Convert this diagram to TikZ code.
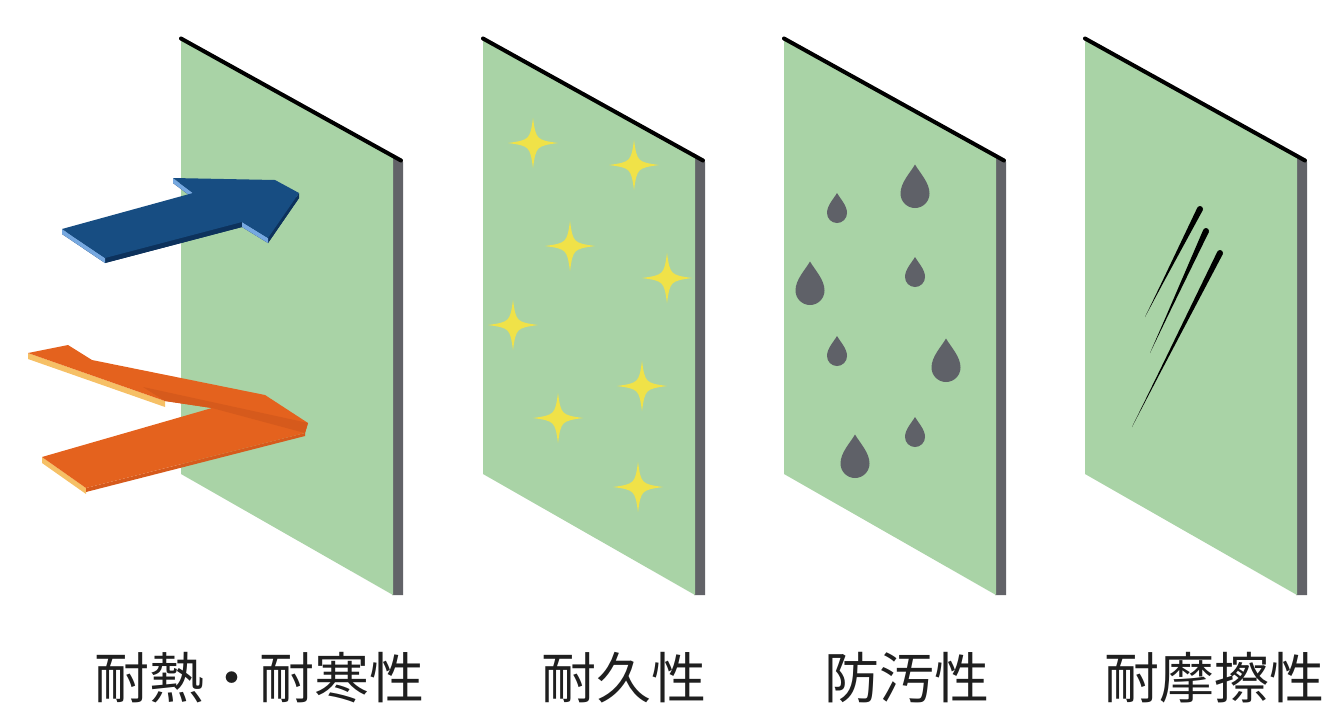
\documentclass[tikz,border=0pt]{standalone}
\usepackage{fontspec}
\newfontfamily\jpfont{Noto Sans CJK JP}
\usetikzlibrary{calc}

\definecolor{panelgreen}{RGB}{169,211,166}
\definecolor{edgegray}{RGB}{98,99,104}
\definecolor{sparkyellow}{RGB}{240,226,72}
\definecolor{dropgray}{RGB}{95,97,104}
\definecolor{bluetop}{RGB}{23,77,130}
\definecolor{bluedark}{RGB}{13,50,92}
\definecolor{bluelight}{RGB}{118,168,224}
\definecolor{orangetop}{RGB}{228,98,30}
\definecolor{orangedark}{RGB}{214,90,28}
\definecolor{orangeside}{RGB}{246,192,102}

\tikzset{
  caption/.style={font=\jpfont\fontsize{55}{62}\selectfont, text=black!88, inner sep=0pt},
  pics/sparkle/.style={code={
    \fill[sparkyellow] (1,0) .. controls (0.14,0.12) and (0.12,0.14) .. (0,1)
      .. controls (-0.12,0.14) and (-0.14,0.12) .. (-1,0)
      .. controls (-0.14,-0.12) and (-0.12,-0.14) .. (0,-1)
      .. controls (0.12,-0.14) and (0.14,-0.12) .. (1,0) -- cycle;}},
  pics/drop/.style={code={
    \fill[dropgray] (0,-3) .. controls (0.35,-2.4) and (1,-1.75) .. (1,-1)
      arc[start angle=0, end angle=180, radius=1]
      .. controls (-1,-1.75) and (-0.35,-2.4) .. cycle;}}
}

% one board: grey side edge, green face, black top edge
\newcommand\boardat[1]{%
  \fill[edgegray] (#1+211,156) -- (#1+222,162) -- (#1+222,595) -- (#1+211,595) -- cycle;
  \fill[panelgreen] (#1,39) -- (#1+212,157) -- (#1+212,595) -- (#1,474) -- cycle;
  \draw[line width=4pt, line cap=round] (#1,38.5) -- (#1+220,160.5);
}

\begin{document}
\begin{tikzpicture}[x=1pt, y=-1pt]
\useasboundingbox (0,0) rectangle (1325,710);

% boards
\boardat{181}
\boardat{483}
\boardat{784}
\boardat{1085}

% ---- heat / cold: blue arrow ----
\coordinate (b1) at (62,229);
\coordinate (b2) at (193,193);
\coordinate (b3) at (173,178);
\coordinate (b4) at (275,180);
\coordinate (b5) at (299,193);
\coordinate (b6) at (268,238);
\coordinate (b7) at (242,222);
\coordinate (b8) at (105,258);
\fill[bluedark] ($(b1)+(0,5)$) -- ($(b2)+(0,5)$) -- ($(b3)+(0,5)$) -- ($(b4)+(0,5)$)
  -- ($(b5)+(0,5)$) -- ($(b6)+(0,5)$) -- ($(b7)+(0,5)$) -- ($(b8)+(0,5)$) -- cycle;
\fill[bluedark] (b8) -- (b7) -- ($(b7)+(0,5)$) -- ($(b8)+(0,5)$) -- cycle;
\fill[bluedark] (b6) -- (b5) -- ($(b5)+(0,5)$) -- ($(b6)+(0,5)$) -- cycle;
\fill[bluelight] (b1) -- (b8) -- ($(b8)+(0,5)$) -- ($(b1)+(0,5)$) -- cycle;
\fill[bluelight] (b3) -- (b2) -- ($(b2)+(0,5)$) -- ($(b3)+(0,5)$) -- cycle;
\fill[bluelight] (b7) -- (b6) -- ($(b6)+(0,5)$) -- ($(b7)+(0,5)$) -- cycle;
\fill[bluetop] (b1) -- (b2) -- (b3) -- (b4) -- (b5) -- (b6) -- (b7) -- (b8) -- cycle;

% ---- heat / cold: reflected orange arrow ----
\coordinate (o1) at (28,353);
\coordinate (o2) at (68,345);
\coordinate (o3) at (92,360);
\coordinate (o4) at (265,395);
\coordinate (o5) at (308,423);
\coordinate (o6) at (305,433);
\coordinate (o7) at (86,488);
\coordinate (o8) at (42,457);
\coordinate (o9) at (212,408);
\coordinate (o10) at (165,401);
\fill[orangeside] (o1) -- (o10) -- ($(o10)+(0,6)$) -- ($(o1)+(0,6)$) -- cycle;
\fill[orangeside] (o8) -- (o7) -- ($(o7)+(0,6)$) -- ($(o8)+(0,6)$) -- cycle;
\fill[orangedark] (o7) -- (o6) -- ($(o6)+(0,3)$) -- ($(o7)+(0,4)$) -- cycle;
\fill[orangetop] (o1) -- (o2) -- (o3) -- (o4) -- (o5) -- (o6) -- (o7) -- (o8) -- (o9) -- (o10) -- cycle;
\fill[orangedark] (143,387) -- (o5) -- (o6) -- (o9) -- (o10) -- cycle;

% ---- durability: sparkles ----
\pic[scale=25] at (533,143) {sparkle};
\pic[scale=25] at (634,165) {sparkle};
\pic[scale=25] at (570,246) {sparkle};
\pic[scale=25] at (667,278) {sparkle};
\pic[scale=25] at (513,325) {sparkle};
\pic[scale=25] at (642,386) {sparkle};
\pic[scale=25] at (558,418) {sparkle};
\pic[scale=25] at (638,487) {sparkle};

% ---- stain resistance: drops ----
\pic[scale=14.5] at (915,208) {drop};
\pic[scale=14.5] at (810,305) {drop};
\pic[scale=14.5] at (946,382) {drop};
\pic[scale=14.5] at (855,478) {drop};
\pic[scale=10] at (837,223) {drop};
\pic[scale=10] at (915,287) {drop};
\pic[scale=10] at (837,366) {drop};
\pic[scale=10] at (915,447) {drop};

% ---- abrasion resistance: scratches ----
\coordinate (s1a) at (1200,209);
\coordinate (s1b) at (1145,317);
\coordinate (s2a) at (1206,231);
\coordinate (s2b) at (1150,353);
\coordinate (s3a) at (1220,253);
\coordinate (s3b) at (1132,427);
\foreach \s in {s1,s2,s3}{
  \fill ($(\s a)!3pt!90:(\s b)$) -- ($(\s a)!0.7!(\s b)+(0.8,0)$) -- (\s b)
     -- ($(\s a)!0.7!(\s b)+(-0.8,0)$) -- ($(\s a)!3pt!-90:(\s b)$) -- cycle;
  \fill (\s a) circle[radius=3];
}

% ---- captions ----
\node[caption] (cap1) at (259,678) {耐熱・耐寒性};
\node[caption] (cap2) at (624,678) {耐久性};
\node[caption] (cap3) at (907,678) {防汚性};
\node[caption] (cap4) at (1214,678) {耐摩擦性};
\end{tikzpicture}
\end{document}
